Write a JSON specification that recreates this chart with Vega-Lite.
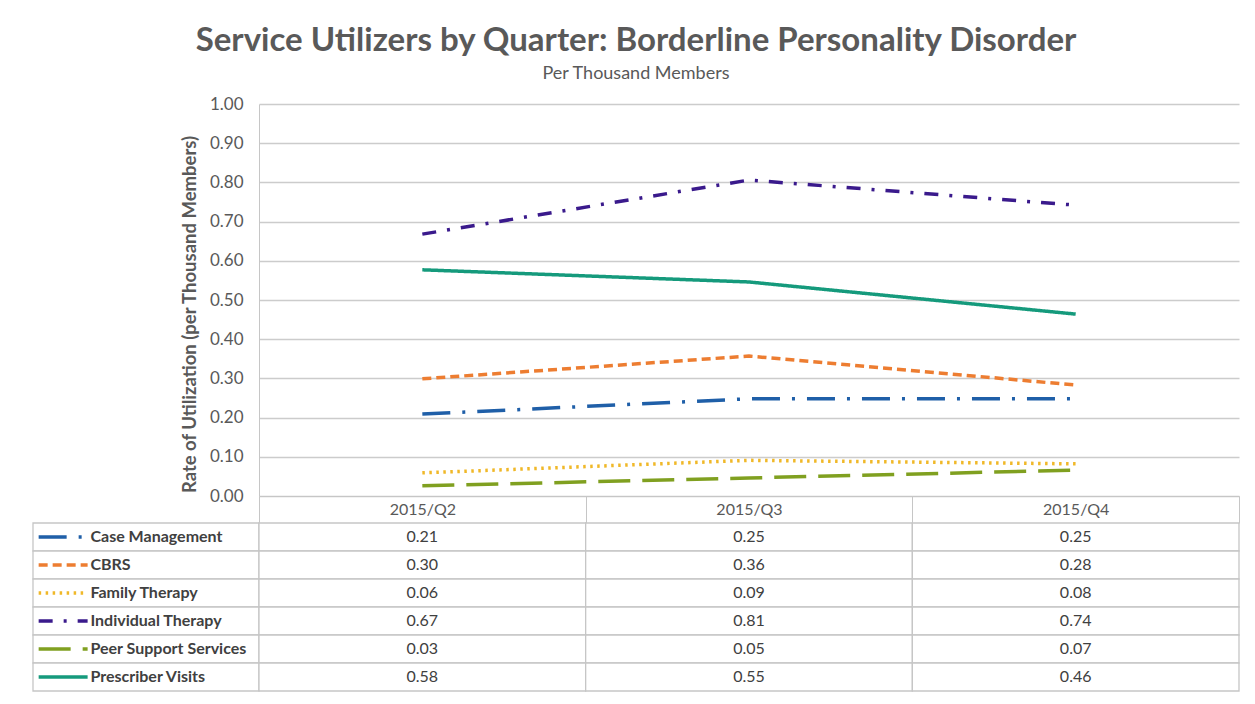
{
  "$schema": "https://vega.github.io/schema/vega-lite/v6.json",
  "background": "white",
  "padding": {"left": 32, "top": 25, "right": 17, "bottom": 6},
  "title": {
    "text": "Service Utilizers by Quarter: Borderline Personality Disorder",
    "subtitle": "Per Thousand Members",
    "font": "Lato", "fontSize": 33, "fontWeight": "bold", "color": "#595959",
    "subtitleFont": "Lato", "subtitleFontSize": 18, "subtitleColor": "#595959", "subtitlePadding": 7,
    "anchor": "middle", "offset": 12
  },
  "config": {"view": {"stroke": null}, "font": "Lato"},
  "datasets": {
    "rates": [
      {"series": "Case Management", "quarter": "2015/Q2", "value": 0.209},
      {"series": "Case Management", "quarter": "2015/Q3", "value": 0.248},
      {"series": "Case Management", "quarter": "2015/Q4", "value": 0.248},
      {"series": "CBRS", "quarter": "2015/Q2", "value": 0.299},
      {"series": "CBRS", "quarter": "2015/Q3", "value": 0.357},
      {"series": "CBRS", "quarter": "2015/Q4", "value": 0.283},
      {"series": "Family Therapy", "quarter": "2015/Q2", "value": 0.059},
      {"series": "Family Therapy", "quarter": "2015/Q3", "value": 0.091},
      {"series": "Family Therapy", "quarter": "2015/Q4", "value": 0.082},
      {"series": "Individual Therapy", "quarter": "2015/Q2", "value": 0.668},
      {"series": "Individual Therapy", "quarter": "2015/Q3", "value": 0.806},
      {"series": "Individual Therapy", "quarter": "2015/Q4", "value": 0.742},
      {"series": "Peer Support Services", "quarter": "2015/Q2", "value": 0.026},
      {"series": "Peer Support Services", "quarter": "2015/Q3", "value": 0.046},
      {"series": "Peer Support Services", "quarter": "2015/Q4", "value": 0.066},
      {"series": "Prescriber Visits", "quarter": "2015/Q2", "value": 0.577},
      {"series": "Prescriber Visits", "quarter": "2015/Q3", "value": 0.546},
      {"series": "Prescriber Visits", "quarter": "2015/Q4", "value": 0.464}
    ]
  },
  "columns": 2,
  "bounds": "flush",
  "spacing": {"row": 27, "column": 0},
  "concat": [
    {
      "width": 226, "height": 392,
      "data": {"values": []},
      "mark": {"type": "point", "opacity": 0},
      "encoding": {}
    },
    {
      "width": 980, "height": 392,
      "data": {"name": "rates"},
      "mark": {"type": "line", "interpolate": "linear", "strokeWidth": 3.5, "strokeCap": "butt", "strokeJoin": "round"},
      "encoding": {
        "x": {
          "field": "quarter", "type": "nominal", "bandPosition": 0.5,
          "scale": {"type": "band", "paddingInner": 0, "paddingOuter": 0},
          "axis": {
            "title": null, "orient": "bottom", "tickBand": "extent", "tickSize": 27,
            "tickColor": "#c6c6c6", "domainColor": "#c6c6c6", "labelAngle": 0,
            "labelPadding": -22, "labelFontSize": 16, "labelColor": "#595959", "labelBaseline": "top"
          }
        },
        "y": {
          "field": "value", "type": "quantitative",
          "scale": {"domain": [0, 1], "nice": false},
          "axis": {
            "title": "Rate of Utilization (per Thousand Members)", "titleFontSize": 18.5, "titleFontWeight": "bold",
            "titleColor": "#595959", "titlePadding": 10, "titleY": 210,
            "values": [0, 0.1, 0.2, 0.3, 0.4, 0.5, 0.6, 0.7, 0.8, 0.9, 1.0],
            "format": ".2f", "labelFontSize": 17, "labelColor": "#595959", "labelPadding": 16,
            "ticks": false, "gridColor": "#cccccc", "gridWidth": 1.3, "domainColor": "#c6c6c6"
          }
        },
        "color": {
          "field": "series", "type": "nominal", "legend": null,
          "scale": {
            "domain": ["Case Management", "CBRS", "Family Therapy", "Individual Therapy", "Peer Support Services", "Prescriber Visits"],
            "range": ["#1f5fa8", "#ed7d31", "#f0b828", "#3a1a8c", "#80a020", "#159a7c"]
          }
        },
        "strokeDash": {
          "field": "series", "type": "nominal", "legend": null,
          "scale": {
            "domain": ["Case Management", "CBRS", "Family Therapy", "Individual Therapy", "Peer Support Services", "Prescriber Visits"],
            "range": [[28, 12, 3, 12], [9, 5], [2.5, 4.5], [14, 11, 3, 11], [32, 12], [1, 0]]
          }
        }
      }
    },
    {
      "width": 226, "height": 168,
      "data": {"name": "rates"},
      "transform": [{"filter": "datum.quarter === '2015/Q2'"}],
      "encoding": {
        "y": {
          "field": "series", "type": "nominal", "axis": null,
          "scale": {"type": "band", "paddingInner": 0, "paddingOuter": 0,
            "domain": ["Case Management", "CBRS", "Family Therapy", "Individual Therapy", "Peer Support Services", "Prescriber Visits"]}
        }
      },
      "layer": [
        {"mark": {"type": "rect", "fill": "white", "stroke": "#c6c6c6", "strokeWidth": 1.3}},
        {
          "mark": {"type": "rule", "strokeWidth": 3.5, "strokeCap": "butt"},
          "encoding": {
            "x": {"datum": 6, "type": "quantitative", "scale": {"domain": [0, 226]}, "axis": null},
            "x2": {"datum": 58},
            "color": {
              "field": "series", "type": "nominal", "legend": null,
              "scale": {
                "domain": ["Case Management", "CBRS", "Family Therapy", "Individual Therapy", "Peer Support Services", "Prescriber Visits"],
                "range": ["#1f5fa8", "#ed7d31", "#f0b828", "#3a1a8c", "#80a020", "#159a7c"]
              }
            },
            "strokeDash": {
              "field": "series", "type": "nominal", "legend": null,
              "scale": {
                "domain": ["Case Management", "CBRS", "Family Therapy", "Individual Therapy", "Peer Support Services", "Prescriber Visits"],
                "range": [[28, 12, 3, 12], [9, 5], [2.5, 4.5], [14, 11, 3, 11], [32, 12], [1, 0]]
              }
            }
          }
        },
        {
          "mark": {"type": "text", "align": "left", "baseline": "middle", "fontSize": 16, "fontWeight": "bold", "color": "#404040"},
          "encoding": {
            "x": {"datum": 61, "type": "quantitative"},
            "text": {"field": "series"}
          }
        }
      ]
    },
    {
      "width": 980, "height": 168,
      "data": {"name": "rates"},
      "encoding": {
        "x": {"field": "quarter", "type": "nominal", "axis": null,
          "scale": {"type": "band", "paddingInner": 0, "paddingOuter": 0}},
        "y": {
          "field": "series", "type": "nominal", "axis": null,
          "scale": {"type": "band", "paddingInner": 0, "paddingOuter": 0,
            "domain": ["Case Management", "CBRS", "Family Therapy", "Individual Therapy", "Peer Support Services", "Prescriber Visits"]}
        }
      },
      "layer": [
        {"mark": {"type": "rect", "fill": "white", "stroke": "#c6c6c6", "strokeWidth": 1.3}},
        {
          "mark": {"type": "text", "align": "center", "baseline": "middle", "fontSize": 16, "color": "#404040"},
          "encoding": {"text": {"field": "value", "format": ".2f"}}
        }
      ]
    }
  ]
}
